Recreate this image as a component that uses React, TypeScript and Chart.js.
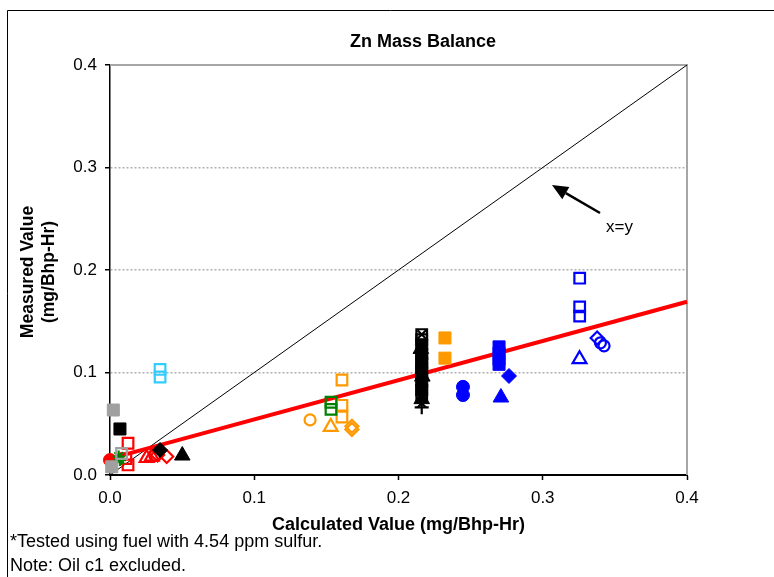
import React, { useEffect, useRef } from "react";
import { Chart, registerables } from "chart.js";

Chart.register(...registerables);

type P = [number, number];

const FONT = "'Liberation Sans', Arial, sans-serif";

const X_TICKS = [0, 0.1, 0.2, 0.3, 0.4];
const Y_TICKS = [0, 0.1, 0.2, 0.3, 0.4];

const TITLE = "Zn Mass Balance";
const X_TITLE = "Calculated Value (mg/Bhp-Hr)";
const Y_TITLE = ["Measured Value", "(mg/Bhp-Hr)"];
const NOTES = ["*Tested using fuel with 4.54 ppm sulfur.", "Note: Oil c1 excluded."];
const ARROW_LABEL = "x=y";

const identityLine: P[] = [[0, 0], [0.4, 0.4]];
const trendLine: P[] = [[0, 0.016], [0.4, 0.169]];

const grayFilledSquares: P[] = [[0.0023, 0.0634], [0.0012, 0.008]];
const grayOpenSquares: P[] = [[0.008, 0.021]];
const blackFilledSquares: P[] = [[0.0069, 0.0449]];
const blackFilledDiamonds: P[] = [[0.0347, 0.0244]];
const blackFilledTriangles: P[] = [[0.0501, 0.019]];
const cyanOpenSquares: P[] = [[0.0347, 0.103], [0.0347, 0.0956]];
const redFilledCircles: P[] = [[0.0, 0.0146]];
const redOpenSquares: P[] = [[0.0125, 0.031], [0.0125, 0.0098], [0.011, 0.016]];
const redOpenTriangles: P[] = [[0.0254, 0.0166], [0.029, 0.018]];
const redOpenCircles: P[] = [[0.031, 0.019]];
const redOpenDiamonds: P[] = [[0.033, 0.0195], [0.0393, 0.018]];
const greenStars: P[] = [[0.0069, 0.0146], [0.006, 0.018]];
const greenOpenSquares: P[] = [[0.1532, 0.071], [0.1532, 0.064]];
const orangeOpenCircles: P[] = [[0.1387, 0.0537]];
const orangeOpenTriangles: P[] = [[0.153, 0.047]];
const orangeOpenSquares: P[] = [[0.1608, 0.0927], [0.1608, 0.068], [0.1608, 0.0566]];
const orangeOpenDiamonds: P[] = [[0.1677, 0.0475], [0.1677, 0.0445]];
const orangeFilledSquares: P[] = [[0.2322, 0.1337], [0.2322, 0.114]];
const blackColFilledSquares: P[] = [[0.2161, 0.127], [0.2161, 0.118], [0.2161, 0.109], [0.2161, 0.1], [0.2161, 0.091], [0.2161, 0.083]];
const blackColOpenSquares: P[] = [[0.2161, 0.137], [0.2161, 0.132], [0.2161, 0.113], [0.2161, 0.104], [0.2161, 0.078]];
const blackColTriangles: P[] = [[0.2155, 0.123], [0.2165, 0.096], [0.2161, 0.074]];
const blackColCrosses: P[] = [[0.2161, 0.137], [0.2161, 0.087], [0.2161, 0.07]];
const blackColPlus: P[] = [[0.2161, 0.066]];
const blueFilledCircles: P[] = [[0.2447, 0.086], [0.2447, 0.078]];
const blueFilledSquares: P[] = [[0.2697, 0.125], [0.2697, 0.119], [0.2697, 0.113], [0.2697, 0.108]];
const blueFilledDiamonds: P[] = [[0.2766, 0.0966]];
const blueFilledTriangles: P[] = [[0.271, 0.0756]];
const blueOpenSquares: P[] = [[0.3256, 0.192], [0.3256, 0.164], [0.3256, 0.155]];
const blueOpenTriangles: P[] = [[0.3255, 0.113]];
const blueOpenDiamonds: P[] = [[0.3377, 0.1337]];
const blueOpenCircles: P[] = [[0.34, 0.129], [0.3425, 0.126]];

const arrowTail: P = [0.3397, 0.2556];
const arrowHead: P = [0.3064, 0.2829];
const arrowLabelAt: P = [0.3439, 0.2371];

const BLUE = "#0000ff";
const RED = "#ff0000";
const ORANGE = "#ff9900";
const GREEN = "#008000";
const CYAN = "#33ccff";
const GRAY = "#a0a0a0";
const BLACK = "#000000";

const pts = (a: P[]) => a.map(([x, y]) => ({ x, y }));

const SIZES: Record<string, number> = { rect: 8.5, triangle: 9, circle: 6.5, rectRot: 7.5, star: 7, cross: 8, crossRot: 7 };

function filled(data: P[], color: string, style: string) {
  return {
    data: pts(data),
    showLine: false,
    pointStyle: style,
    pointRadius: SIZES[style],
    pointBackgroundColor: color,
    pointBorderColor: color,
    pointBorderWidth: 1,
    clip: false as const,
  };
}

function open(data: P[], color: string, style: string) {
  return {
    data: pts(data),
    showLine: false,
    pointStyle: style,
    pointRadius: SIZES[style] - 1,
    pointBackgroundColor: "rgba(0,0,0,0)",
    pointBorderColor: color,
    pointBorderWidth: 2.2,
    clip: false as const,
  };
}

function line(data: P[], color: string, width: number) {
  return {
    data: pts(data),
    showLine: true,
    pointRadius: 0,
    borderColor: color,
    borderWidth: width,
    order: 10,
    clip: false as const,
  };
}

const overlay = {
  id: "overlay",
  beforeDatasetsDraw(chart: any) {
    const { ctx, chartArea: a } = chart;
    ctx.save();
    ctx.strokeStyle = "#a6a6a6";
    ctx.lineWidth = 2;
    ctx.beginPath();
    ctx.moveTo(a.left, a.top);
    ctx.lineTo(a.right, a.top);
    ctx.lineTo(a.right, a.bottom);
    ctx.stroke();
    ctx.restore();
  },
  afterDraw(chart: any) {
    const { ctx, chartArea: a } = chart;
    const xs = chart.scales.x;
    const ys = chart.scales.y;
    ctx.save();
    // outer chart border
    ctx.strokeStyle = "#000";
    ctx.lineWidth = 1;
    ctx.beginPath();
    ctx.moveTo(7.5, chart.height);
    ctx.lineTo(7.5, 10.5);
    ctx.lineTo(chart.width, 10.5);
    ctx.stroke();

    ctx.fillStyle = "#000";
    ctx.textBaseline = "alphabetic";
    // title
    ctx.font = `bold 18px ${FONT}`;
    ctx.textAlign = "center";
    ctx.fillText(TITLE, 423, 47);
    // x title
    ctx.fillText(X_TITLE, (a.left + a.right) / 2, 530);
    // y title
    ctx.font = `bold 17.5px ${FONT}`;
    const cy = (a.top + a.bottom) / 2 + 2;
    [33, 54].forEach((bx, i) => {
      ctx.save();
      ctx.translate(bx, cy);
      ctx.rotate(-Math.PI / 2);
      ctx.fillText(Y_TITLE[i], 0, 0);
      ctx.restore();
    });
    // notes
    ctx.font = `18px ${FONT}`;
    ctx.textAlign = "left";
    ctx.fillText(NOTES[0], 10, 547);
    ctx.fillText(NOTES[1], 10, 571);

    // arrow
    const tx = xs.getPixelForValue(arrowTail[0]);
    const ty = ys.getPixelForValue(arrowTail[1]);
    const hx = xs.getPixelForValue(arrowHead[0]);
    const hy = ys.getPixelForValue(arrowHead[1]);
    const ang = Math.atan2(hy - ty, hx - tx);
    const headLen = 16;
    const headW = 7;
    const bx = hx - headLen * Math.cos(ang);
    const by = hy - headLen * Math.sin(ang);
    ctx.strokeStyle = "#000";
    ctx.lineWidth = 2.5;
    ctx.beginPath();
    ctx.moveTo(tx, ty);
    ctx.lineTo(bx, by);
    ctx.stroke();
    ctx.beginPath();
    ctx.moveTo(hx, hy);
    ctx.lineTo(bx + headW * Math.sin(ang), by - headW * Math.cos(ang));
    ctx.lineTo(bx - headW * Math.sin(ang), by + headW * Math.cos(ang));
    ctx.closePath();
    ctx.fill();
    ctx.font = `17px ${FONT}`;
    ctx.fillText(ARROW_LABEL, xs.getPixelForValue(arrowLabelAt[0]), ys.getPixelForValue(arrowLabelAt[1]));
    ctx.restore();
  },
};

export default function App() {
  const ref = useRef<HTMLCanvasElement>(null);
  useEffect(() => {
    if (!ref.current) return;
    Chart.defaults.font.family = FONT;
    const chart = new Chart(ref.current, {
      type: "scatter",
      data: {
        datasets: [
          filled(blackColFilledSquares, BLACK, "rect"),
          open(blackColOpenSquares, BLACK, "rect"),
          filled(blackColTriangles, BLACK, "triangle"),
          open(blackColCrosses, BLACK, "crossRot"),
          open(blackColPlus, BLACK, "cross"),
          filled(grayFilledSquares, GRAY, "rect"),
          open(grayOpenSquares, GRAY, "rect"),
          filled(blackFilledSquares, BLACK, "rect"),
          filled(blackFilledDiamonds, BLACK, "rectRot"),
          filled(blackFilledTriangles, BLACK, "triangle"),
          open(cyanOpenSquares, CYAN, "rect"),
          open(greenStars, GREEN, "star"),
          filled(redFilledCircles, RED, "circle"),
          open(redOpenSquares, RED, "rect"),
          open(redOpenTriangles, RED, "triangle"),
          open(redOpenCircles, RED, "circle"),
          open(redOpenDiamonds, RED, "rectRot"),
          open(greenOpenSquares, GREEN, "rect"),
          open(orangeOpenCircles, ORANGE, "circle"),
          open(orangeOpenTriangles, ORANGE, "triangle"),
          open(orangeOpenSquares, ORANGE, "rect"),
          open(orangeOpenDiamonds, ORANGE, "rectRot"),
          filled(orangeFilledSquares, ORANGE, "rect"),
          filled(blueFilledCircles, BLUE, "circle"),
          filled(blueFilledSquares, BLUE, "rect"),
          filled(blueFilledDiamonds, BLUE, "rectRot"),
          filled(blueFilledTriangles, BLUE, "triangle"),
          open(blueOpenSquares, BLUE, "rect"),
          open(blueOpenTriangles, BLUE, "triangle"),
          open(blueOpenDiamonds, BLUE, "rectRot"),
          open(blueOpenCircles, BLUE, "circle"),
          line(trendLine, RED, 4),
          { ...line(identityLine, BLACK, 1), order: 11 },
        ] as any,
      },
      options: {
        animation: false,
        responsive: false,
        layout: { padding: { top: 65, right: 87, left: 0, bottom: 0 } },
        plugins: {
          legend: { display: false },
          tooltip: { enabled: false },
          title: { display: false },
        },
        events: [],
        scales: {
          x: {
            type: "linear",
            min: 0,
            max: 0.4,
            afterBuildTicks: (s: any) => {
              s.ticks = X_TICKS.map((v) => ({ value: v }));
            },
            afterFit: (s: any) => {
              s.height = 102;
            },
            ticks: {
              callback: (v: any) => Number(v).toFixed(1),
              color: "#000",
              font: { size: 17, family: FONT },
              padding: 8,
              maxRotation: 0,
              autoSkip: false,
            },
            grid: { drawOnChartArea: false, tickLength: 5, tickColor: "#000", tickWidth: 1.5 },
            border: { display: true, color: "#000", width: 2 },
          },
          y: {
            type: "linear",
            min: 0,
            max: 0.4,
            afterBuildTicks: (s: any) => {
              s.ticks = Y_TICKS.map((v) => ({ value: v }));
            },
            afterFit: (s: any) => {
              s.width = 110;
            },
            ticks: {
              callback: (v: any) => Number(v).toFixed(1),
              color: "#000",
              font: { size: 17, family: FONT },
              padding: 8,
              autoSkip: false,
            },
            grid: {
              color: (c: any) => {
                const v = c.tick ? c.tick.value : 0;
                return Math.abs(v) < 1e-9 || Math.abs(v - 0.4) < 1e-9 ? "rgba(0,0,0,0)" : "#b0b0b0";
              },
              lineWidth: 1.5,
              tickLength: 5,
              tickColor: "#000",
              tickWidth: 1.5,
            },
            border: { display: true, color: "#000", width: 1.5, dash: [2, 2] },
          },
        },
      } as any,
      plugins: [overlay],
    });
    return () => chart.destroy();
  }, []);
  return (
    <div style={{ position: "absolute", left: 0, top: 0, width: 774, height: 577, background: "#fff" }}>
      <canvas ref={ref} width={774} height={577} style={{ display: "block", width: 774, height: 577 }} />
    </div>
  );
}
